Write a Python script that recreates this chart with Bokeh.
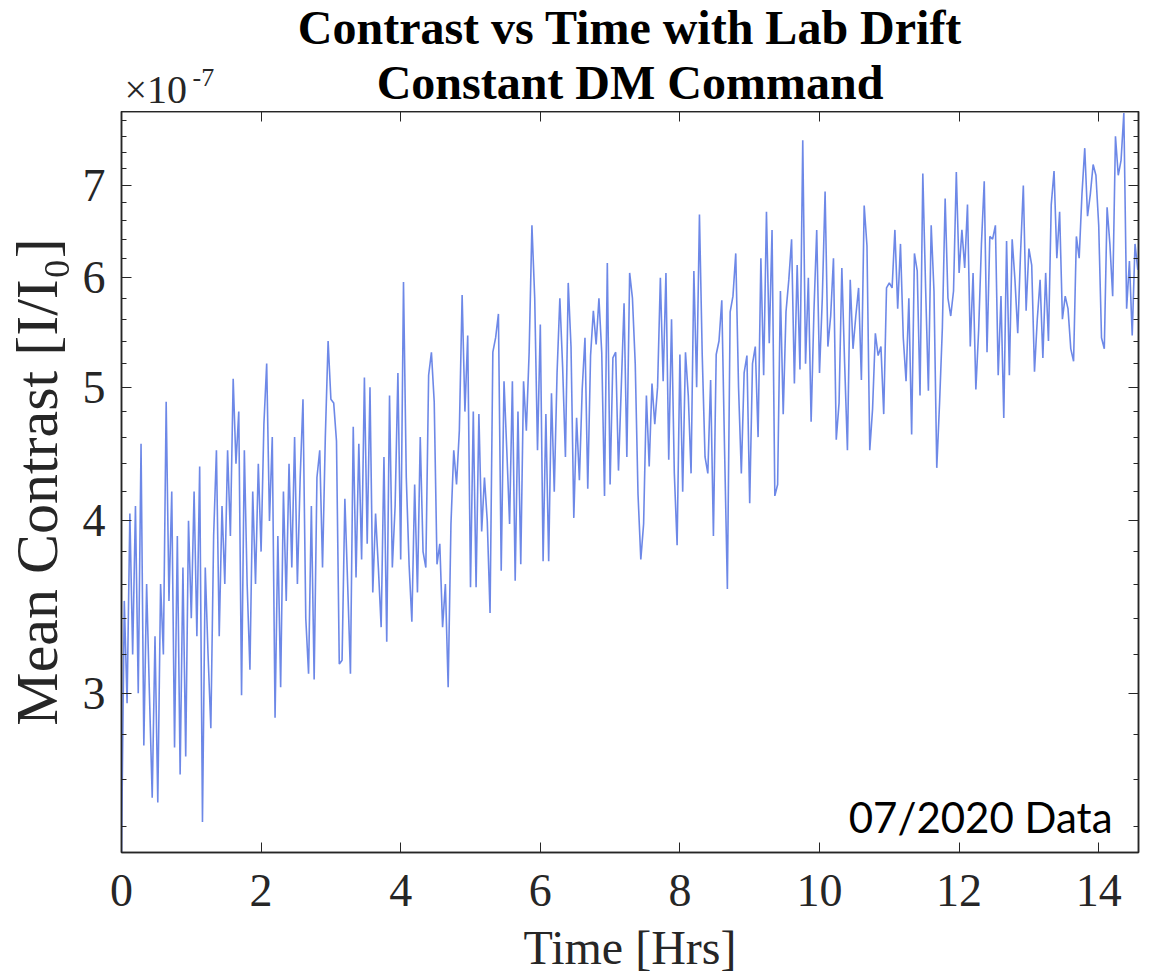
from bokeh.plotting import figure
from bokeh.layouts import column
from bokeh.models import (FixedTicker, LinearAxis, LogAxis, Label, Range1d,
                          ColumnDataSource, PrintfTickFormatter, CustomJSTickFormatter)
from bokeh.embed import file_html
from bokeh.resources import INLINE

# ---- data (mean contrast in units of 1e-7, sampled every 0.04 h) ----
sample_step_hrs = 0.04
contrast_h00 = [2.30, 3.5, 2.95, 4.05, 3.2, 4.1, 3.0, 4.55, 2.75, 3.6, 3.0, 2.52, 3.3, 2.5, 3.6, 3.2, 4.88, 3.5, 4.2, 2.74, 3.9, 2.62, 3.7, 2.7, 4.0]
contrast_h01 = [3.4, 4.2, 3.3, 4.38, 2.42, 3.7, 3.2, 2.83, 3.9, 4.5, 3.3, 4.1, 3.6, 4.5, 3.9, 5.07, 4.4, 4.8, 2.99, 4.5, 3.6, 3.12, 4.2, 3.6, 4.4]
contrast_h02 = [3.8, 4.7, 5.2, 4.0, 4.6, 2.88, 3.9, 3.03, 4.2, 3.5, 4.4, 3.7, 4.6, 3.6, 4.3, 4.9, 3.4, 3.1, 4.1, 3.07, 4.3, 4.5, 3.7, 4.6, 5.4]
contrast_h03 = [4.9, 4.87, 4.57, 3.15, 3.17, 4.15, 3.6, 3.1, 4.68, 3.64, 4.55, 3.75, 5.08, 3.85, 5.0, 3.55, 4.05, 3.7, 3.35, 4.45, 3.27, 4.93, 3.7, 4.1, 5.12]
contrast_h04 = [3.75, 5.96, 4.3, 3.72, 3.38, 4.25, 3.55, 4.6, 3.8, 3.7, 5.1, 5.3, 4.88, 3.72, 3.85, 3.35, 3.6, 3.03, 3.98, 4.5, 4.25, 4.65, 5.83, 4.8, 5.45]
contrast_h05 = [3.58, 4.8, 3.58, 4.78, 3.93, 4.3, 4.0, 3.43, 5.3, 5.43, 5.65, 3.68, 5.05, 4.5, 3.98, 5.05, 3.62, 4.8, 3.72, 5.05, 4.65, 5.3, 6.55, 5.8, 4.5]
contrast_h06 = [5.55, 3.74, 4.78, 3.74, 4.95, 4.2, 5.12, 5.8, 5.17, 4.45, 5.95, 5.35, 4.02, 4.75, 4.28, 4.98, 5.43, 4.22, 5.27, 5.68, 5.37, 5.8, 5.3, 4.17, 6.15]
contrast_h07 = [4.25, 5.25, 5.3, 4.35, 5.0, 5.75, 4.45, 6.05, 5.8, 5.2, 4.18, 3.75, 3.98, 4.93, 4.38, 5.03, 4.7, 5.0, 6.0, 5.05, 6.05, 4.43, 5.6, 4.33, 3.84]
contrast_h08 = [5.28, 4.2, 5.3, 4.93, 4.33, 6.07, 5.0, 6.67, 5.27, 4.45, 4.33, 5.06, 3.9, 5.28, 5.4, 5.78, 4.5, 3.57, 5.67, 5.82, 6.25, 5.0, 4.33, 5.12, 5.27]
contrast_h09 = [4.12, 5.2, 5.35, 4.6, 6.2, 5.1, 6.7, 5.38, 6.5, 4.17, 4.25, 5.87, 4.78, 5.67, 5.98, 6.4, 5.03, 6.13, 5.15, 7.55, 5.2, 6.0, 4.72, 5.67, 6.5]
contrast_h10 = [5.12, 5.8, 6.93, 5.35, 5.63, 6.2, 4.58, 4.87, 6.1, 5.2, 4.5, 5.98, 5.33, 5.63, 5.9, 5.06, 6.77, 6.33, 4.5, 4.82, 5.47, 5.27, 5.35, 4.78, 5.9]
contrast_h11 = [5.95, 5.9, 6.5, 5.7, 6.35, 5.43, 5.05, 5.8, 4.62, 6.25, 6.07, 4.93, 7.14, 5.9, 4.97, 6.55, 5.87, 4.37, 4.87, 5.52, 6.85, 5.8, 5.63, 5.87, 7.16]
contrast_h12 = [6.05, 6.5, 6.1, 6.78, 5.35, 6.05, 4.98, 5.5, 6.35, 7.05, 5.3, 6.43, 6.4, 6.55, 5.1, 5.82, 4.75, 6.38, 5.1, 6.4, 5.98, 5.47, 6.25, 7.0, 5.68]
contrast_h13 = [6.3, 6.13, 5.13, 5.6, 5.98, 5.25, 6.05, 5.4, 6.78, 7.17, 6.2, 6.7, 5.6, 5.82, 5.7, 5.33, 5.22, 6.43, 6.2, 6.9, 7.45, 6.65, 6.9, 7.25, 7.12]
contrast_h14 = [6.55, 5.43, 5.33, 6.75, 6.35, 5.82, 7.6, 7.12, 7.3, 7.9, 5.7, 6.17, 5.45, 6.35, 6.08]

x_ticks = [0, 2, 4, 6, 8, 10, 12, 14]
y_ticks = [3, 4, 5, 6, 7]
y_minor = [2.4, 2.6, 2.8, 3.2, 3.4, 3.6, 3.8, 4.2, 4.4, 4.6, 4.8, 5.2, 5.4, 5.6, 5.8,
           6.2, 6.4, 6.6, 6.8, 7.2, 7.4, 7.6, 7.8]

contrast = (contrast_h00 + contrast_h01 + contrast_h02 + contrast_h03 + contrast_h04 +
            contrast_h05 + contrast_h06 + contrast_h07 + contrast_h08 + contrast_h09 +
            contrast_h10 + contrast_h11 + contrast_h12 + contrast_h13 + contrast_h14)
time_hrs = [round(i * sample_step_hrs, 4) for i in range(len(contrast))]

SERIF = "Liberation Serif"
INK = "#262626"
W = 1148
FRAME_W = 1017
HEADER_H = 111

# ---------------- header (titles + exponent); frame aligned with main frame ----------------
hdr = figure(width=W, height=HEADER_H, x_range=Range1d(0, FRAME_W), y_range=Range1d(0, HEADER_H),
             output_backend="svg", toolbar_location=None, min_border=0,
             x_axis_location=None, y_axis_location=None)
hdr.grid.visible = False
hdr.outline_line_color = None
hdr.add_layout(Label(x=508.5, y=84, text="Contrast vs Time with Lab Drift",
                     text_font=SERIF, text_font_style="bold", text_font_size="48px",
                     text_color="black", text_align="center", text_baseline="middle"))
hdr.add_layout(Label(x=508.5, y=29, text="Constant DM Command",
                     text_font=SERIF, text_font_style="bold", text_font_size="48px",
                     text_color="black", text_align="center", text_baseline="middle"))
hdr.add_layout(Label(x=3, y=22.5, text="\u00d710", text_font=SERIF, text_font_size="40px",
                     text_color=INK, text_align="left", text_baseline="middle"))
hdr.add_layout(Label(x=71, y=34, text="-7", text_font=SERIF, text_font_size="26px",
                     text_color=INK, text_align="left", text_baseline="middle"))

# ---------------- main plot ----------------
p = figure(frame_width=FRAME_W, frame_height=741,
           x_range=Range1d(0, 14.57), y_range=Range1d(2.30, 7.92),
           y_axis_type="log", output_backend="svg", toolbar_location=None,
           min_border_left=121, min_border_right=10, min_border_top=0,
           min_border_bottom=122)
p.grid.visible = False
p.outline_line_color = INK
p.outline_line_width = 1.5

src = ColumnDataSource(dict(t=time_hrs, c=contrast))
p.line("t", "c", source=src, line_color="#6582e6", line_width=1.6, line_alpha=0.95)

blank = CustomJSTickFormatter(code="return ''")

xa = p.xaxis[0]
xa.ticker = FixedTicker(ticks=x_ticks, minor_ticks=[])
xa.axis_label = "Time [Hrs]"
xa.axis_label_text_font = SERIF
xa.axis_label_text_font_style = "normal"
xa.axis_label_text_font_size = "48px"
xa.axis_label_text_color = INK
xa.axis_label_standoff = 12
xa.major_label_text_font = SERIF
xa.major_label_text_font_size = "46px"
xa.major_label_text_color = INK
xa.major_label_standoff = 22
xa.major_tick_in = 10
xa.major_tick_out = 0
xa.minor_tick_in = 0
xa.minor_tick_out = 0
xa.axis_line_color = INK
xa.axis_line_width = 1.5
xa.major_tick_line_color = INK

ya = p.yaxis[0]
ya.ticker = FixedTicker(ticks=y_ticks, minor_ticks=y_minor)
ya.formatter = PrintfTickFormatter(format="%d")
ya.axis_label = "Mean Contrast [I/I\u2080]"
ya.axis_label_text_font = SERIF
ya.axis_label_text_font_style = "normal"
ya.axis_label_text_font_size = "60px"
ya.axis_label_text_color = INK
ya.axis_label_standoff = 10
ya.major_label_text_font = SERIF
ya.major_label_text_font_size = "46px"
ya.major_label_text_color = INK
ya.major_label_standoff = 16
ya.major_tick_in = 10
ya.major_tick_out = 0
ya.minor_tick_in = 5
ya.minor_tick_out = 0
ya.axis_line_color = INK
ya.axis_line_width = 1.5
ya.major_tick_line_color = INK
ya.minor_tick_line_color = INK

ra = LogAxis(ticker=FixedTicker(ticks=y_ticks, minor_ticks=y_minor), formatter=blank,
             major_label_standoff=0,
             major_tick_in=10, major_tick_out=0, minor_tick_in=5, minor_tick_out=0,
             axis_line_color=INK, axis_line_width=1.5,
             major_tick_line_color=INK, minor_tick_line_color=INK)
p.add_layout(ra, "right")
ta = LinearAxis(ticker=FixedTicker(ticks=x_ticks, minor_ticks=[]), formatter=blank,
                major_label_standoff=0,
                major_tick_in=10, major_tick_out=0, minor_tick_in=0, minor_tick_out=0,
                axis_line_color=INK, axis_line_width=1.5, major_tick_line_color=INK)
p.add_layout(ta, "above")

p.add_layout(Label(x=991, y=35.5, x_units="screen", y_units="screen",
                   text="07/2020 Data", text_font="Lato", text_font_size="42px",
                   text_color="black", text_align="right", text_baseline="middle"))

layout = column(hdr, p, spacing=0)
open("out.html", "w").write(file_html(layout, INLINE))
